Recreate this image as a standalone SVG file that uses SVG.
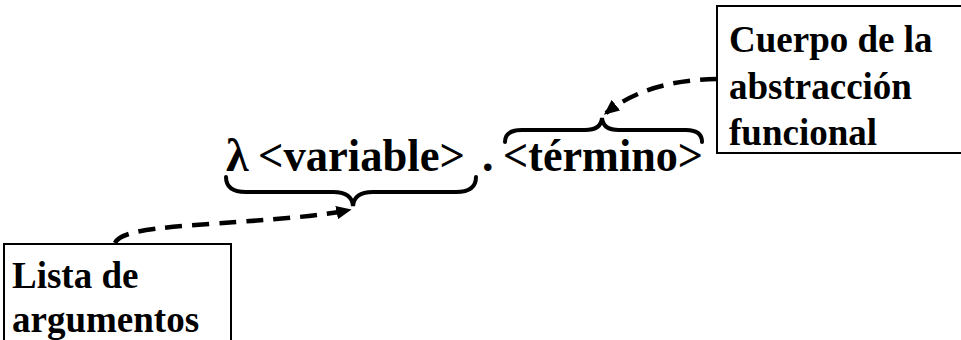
<svg xmlns="http://www.w3.org/2000/svg" width="961" height="340" viewBox="0 0 961 340">
<defs>
<style>
.t{font-family:"Liberation Serif","Times New Roman",serif;font-weight:bold;fill:#000}
.box{fill:#fff;stroke:#000;stroke-width:2}
.brace{fill:none;stroke:#000;stroke-width:4;stroke-linecap:round}
.dash{fill:none;stroke:#000;stroke-width:4.5;stroke-dasharray:17 10}
</style>
<marker id="ah" markerWidth="3.4" markerHeight="3" refX="2.8" refY="1.5" orient="auto" markerUnits="strokeWidth">
<path d="M0,0 L3.4,1.5 L0,3 z" fill="#000"/>
</marker>
</defs>
<rect width="961" height="340" fill="#fff"/>
<g id="expr" class="t" font-size="46">
<text x="226" y="171">λ</text>
<text x="258" y="171" textLength="207" lengthAdjust="spacingAndGlyphs">&lt;variable&gt;</text>
<text x="482" y="171">.</text>
<text x="503" y="171" textLength="200" lengthAdjust="spacingAndGlyphs">&lt;término&gt;</text>
</g>
<g id="brace-var">
<path class="brace" d="M226,177 Q226,192 246,192 L333,192 Q352,192 353,206 Q354,192 373,192 L456,192 Q476,192 476,177"/>
</g>
<g id="brace-term">
<path class="brace" d="M505,142 Q505,130 522,130 L585,130 Q601,130 602,118 Q603,130 619,130 L686,130 Q702,130 702,142"/>
</g>
<g id="box-cuerpo">
<rect class="box" x="717" y="6" width="250" height="147"/>
<text class="t" font-size="37"><tspan x="729" y="52">Cuerpo de la</tspan><tspan x="729" y="99">abstracción</tspan><tspan x="729" y="145">funcional</tspan></text>
</g>
<g id="box-lista">
<rect class="box" x="4" y="244" width="227" height="110"/>
<text class="t" font-size="37"><tspan x="12" y="288">Lista de</tspan><tspan x="12" y="332">argumentos</tspan></text>
</g>
<g id="connectors">
<path class="dash" d="M717,79 C680,80 640,86 606,113" marker-end="url(#ah)"/>
<path class="dash" d="M115,243 C120,232 150,228 210,224 C280,219 320,216 349,210" marker-end="url(#ah)"/>
</g>
</svg>
